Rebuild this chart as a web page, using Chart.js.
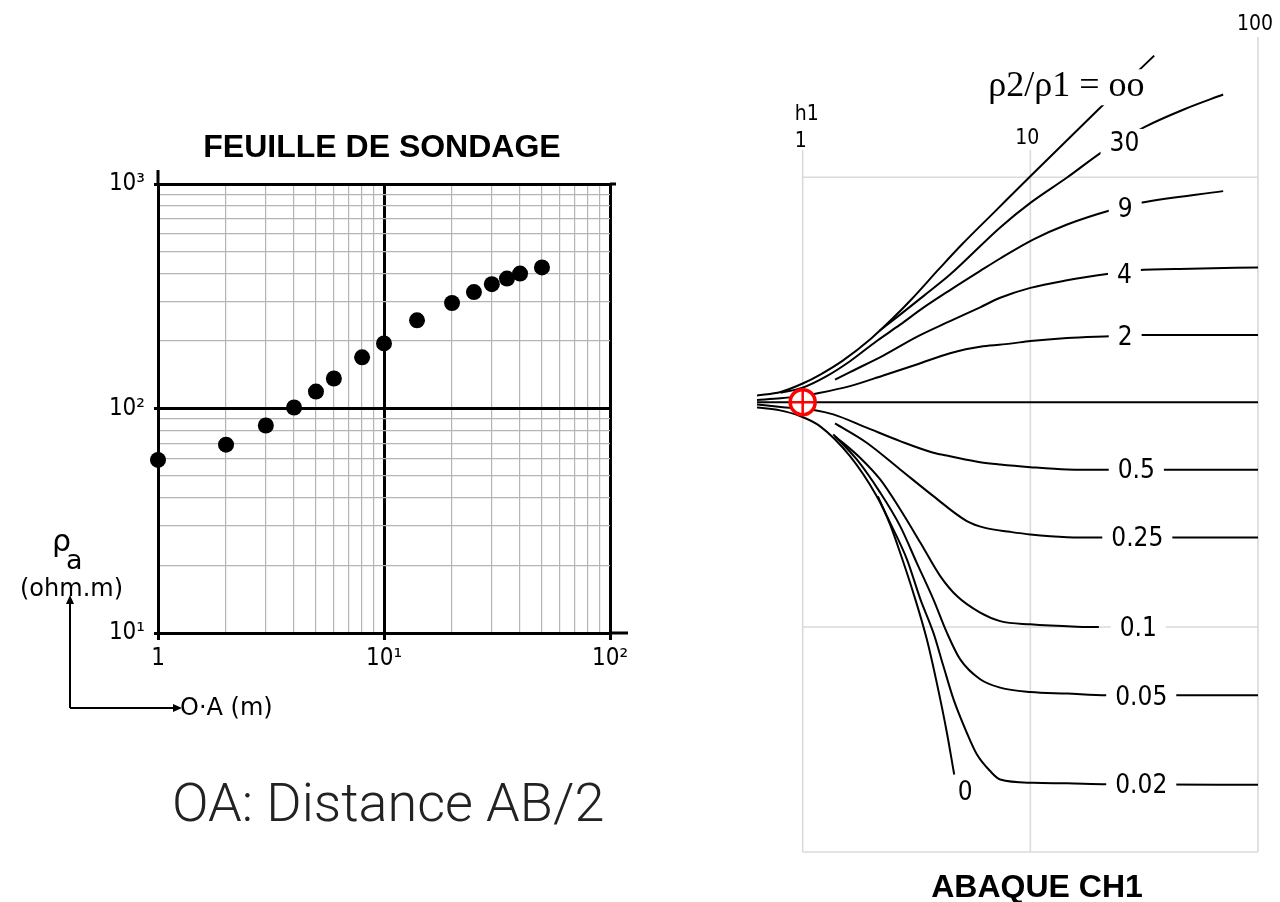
<!DOCTYPE html>
<html lang="fr">
<head>
<meta charset="UTF-8" />
<meta name="viewport" content="width=device-width, initial-scale=1.0" />
<title>Feuille de sondage - Abaque CH1</title>
<script src="https://cdn.jsdelivr.net/npm/chart.js@4.4.0/dist/chart.umd.min.js"></script>
<style>
  html, body { margin: 0; padding: 0; background: #fff; }
  #page { position: relative; width: 1280px; height: 902px; overflow: hidden; }
  .box { position: absolute; }
  #overlay { position: absolute; left: 0; top: 0; pointer-events: none; }
</style>
</head>
<body>
<div id="page">
  <div class="box" style="left:0;top:120px;width:660px;height:580px">
    <canvas id="sondage" width="660" height="580"></canvas>
  </div>
  <div class="box" style="left:740px;top:0;width:540px;height:902px">
    <canvas id="abaque" width="540" height="902"></canvas>
  </div>
  <svg id="overlay" width="1280" height="902">
    <g font-family="'Liberation Sans', Arial, sans-serif" font-weight="bold" font-size="32" text-anchor="middle">
      <text x="382" y="157">FEUILLE DE SONDAGE</text>
      <text x="1037" y="897">ABAQUE CH1</text>
    </g>
    <g font-family="'DejaVu Sans', Verdana, sans-serif">
      <text x="52" y="551" font-size="30">ρ</text>
      <text x="66" y="569" font-size="27">a</text>
      <text x="20" y="596" font-size="24">(ohm.m)</text>
      <text x="180" y="715" font-size="24">O·A (m)</text>
    </g>
    <text x="172" y="821" font-family="Roboto, 'Liberation Sans', sans-serif" font-weight="300" font-size="54" fill="#222">OA: Distance AB/2</text>
    <g stroke="#000" stroke-width="2" fill="none">
      <path d="M70 708 V602 M70 708 H176" />
    </g>
    <g fill="#000">
      <path d="M70 595 L66 604 L74 604 Z" />
      <path d="M182 708 L173 704 L173 712 Z" />
    </g>
  </svg>
</div>
<script>
  // ---- feuille de sondage : mesures (AB/2 en m, resistivite apparente en ohm.m)
  const oaValues = [1, 2, 3, 4, 5, 6, 8, 10, 14, 20, 25, 30, 35, 40, 50];
  const rhoValues = [59, 69, 84, 101, 119, 136, 169, 195, 247, 295, 330, 358, 379, 399, 425];

  const xGridValues = [1, 2, 3, 4, 5, 6, 7, 8, 9, 10, 20, 30, 40, 50, 60, 70, 80, 90, 100];
  const yGridValues = [10, 20, 30, 40, 50, 60, 70, 80, 90, 100, 200, 300, 400, 500, 600, 700, 800, 900, 1000];
  const xDecades = [1, 10, 100];
  const xTickText = ['1', '10¹', '10²'];
  const yDecades = [10, 100, 1000];
  const yTickText = ['10¹', '10²', '10³'];

  // ---- abaque CH1 : courbes rho2/rho1 (x = AB/2 / h1, y = rho_a / rho1)
  const ooX = [0.63, 0.8, 1, 1.2, 1.5, 2, 2.5, 3, 4, 5, 7, 10, 20, 35];
  const ooY = [1.07, 1.11, 1.21, 1.33, 1.53, 1.92, 2.37, 2.86, 3.94, 5.02, 7.05, 10.1, 20.1, 34.7];
  const r30X = [2.17, 2.68, 3.39, 4.44, 7.37, 10, 14.5, 21, 31.7, 47.2, 70.3];
  const r30Y = [2.07, 2.45, 2.96, 3.69, 5.98, 7.69, 9.97, 13.1, 16.7, 20.0, 23.3];
  const r9X = [0.8, 1, 1.275, 1.614, 2.115, 2.68, 3.39, 4.44, 6.02, 7.37, 10.33, 14.5, 22.5, 30.5, 70.3];
  const r9Y = [1.1, 1.16, 1.305, 1.52, 1.87, 2.21, 2.63, 3.15, 3.83, 4.35, 5.29, 6.16, 7.13, 7.69, 8.67];
  const r4X = [1.387, 1.614, 2.26, 3.17, 4.44, 6.02, 7.37, 10, 14.5, 22.1, 29.4, 50.5, 100];
  const r4Y = [1.258, 1.36, 1.61, 1.95, 2.29, 2.64, 2.91, 3.22, 3.48, 3.72, 3.86, 3.92, 3.97];
  const r2X = [0.63, 0.8, 1, 1.152, 1.614, 2.26, 3.17, 4.44, 6.2, 8.16, 10, 14.5, 22.3, 30.5, 100];
  const r2Y = [1.023, 1.04, 1.066, 1.093, 1.178, 1.314, 1.47, 1.65, 1.77, 1.82, 1.87, 1.93, 1.965, 1.99, 1.99];
  const r1X = [0.63, 100];
  const r1Y = [1, 1];
  const r05X = [0.63, 0.8, 1.133, 1.363, 1.91, 2.68, 3.75, 4.44, 6.02, 7.37, 10, 14.5, 22.1, 100];
  const r05Y = [0.977, 0.952, 0.921, 0.882, 0.77, 0.671, 0.596, 0.575, 0.541, 0.528, 0.514, 0.502, 0.5, 0.5];
  const r025X = [1.387, 1.91, 2.68, 3.75, 5.26, 6.33, 8.16, 10, 14.5, 20.6, 100];
  const r025Y = [0.804, 0.66, 0.502, 0.382, 0.296, 0.276, 0.265, 0.258, 0.251, 0.25, 0.25];
  const r01X = [1.387, 1.786, 2.19, 2.68, 3.29, 4.02, 4.76, 6.02, 7.37, 10, 16, 20];
  const r01Y = [0.706, 0.566, 0.453, 0.334, 0.237, 0.1685, 0.1373, 0.1159, 0.1063, 0.1028, 0.1004, 0.1];
  const r005X = [1.363, 1.728, 2.19, 2.68, 3.17, 3.75, 4.3, 4.92, 6.02, 7.37, 10, 14.5, 21.7, 100];
  const r005Y = [0.719, 0.556, 0.396, 0.281, 0.193, 0.1328, 0.0944, 0.0718, 0.0586, 0.0538, 0.0514, 0.0506, 0.0497, 0.0497];
  const r002X = [0.63, 0.795, 0.973, 1.19, 1.614, 2.115, 2.42, 2.87, 3.29, 3.75, 4.15, 4.6, 5.26, 5.82, 6.66, 7.37, 10.33, 14.5, 21.7, 100];
  const r002Y = [0.947, 0.919, 0.867, 0.782, 0.575, 0.382, 0.291, 0.2, 0.1328, 0.0944, 0.0671, 0.0477, 0.0339, 0.0272, 0.0229, 0.021, 0.0203, 0.0202, 0.02, 0.0199];
  const r0X = [2.14, 2.42, 2.68, 3.06, 3.51, 3.88, 4.3, 4.63];
  const r0Y = [0.381, 0.286, 0.214, 0.1422, 0.0882, 0.0566, 0.0339, 0.0221];

  const curveLabels = ['30', '9', '4', '2', '0.5', '0.25', '0.1', '0.05', '0.02', '0'];
  const curveLabelX = [25.9, 26.1, 25.9, 26.1, 29.2, 29.5, 29.8, 30.7, 30.7, 5.17];
  const curveLabelY = [14.2, 7.18, 3.66, 1.94, 0.5, 0.249, 0.0992, 0.0487, 0.0198, 0.0184];
  const ratioLabel = 'ρ2/ρ1 = oo';
  const ratioLabelX = 14.4;
  const ratioLabelY = 22.9;

  const markerX = [1];
  const markerY = [1];

  const abaqueGridX = [1, 10, 100];
  const abaqueGridY = [10, 0.1, 0.01];
  const abaqueTickText = ['1', '10', '100'];

  const condensed = "'DejaVu Sans Condensed', 'DejaVu Sans', sans-serif";

  function pairs(xs, ys) {
    return xs.map((v, i) => ({ x: v, y: ys[i] }));
  }
  function isDecade(v) {
    const l = Math.log10(v);
    return Math.abs(l - Math.round(l)) < 1e-9;
  }

  // ---------- chart 1 : feuille de sondage
  const sondageFrame = {
    id: 'sondageFrame',
    afterDraw(chart) {
      const { ctx, chartArea: a } = chart;
      ctx.save();
      ctx.strokeStyle = '#000';
      ctx.lineWidth = 3;
      ctx.beginPath();
      ctx.moveTo(a.left, a.top + 1);
      ctx.lineTo(a.left, a.top - 14);
      ctx.moveTo(a.right, a.bottom);
      ctx.lineTo(a.right + 18, a.bottom);
      ctx.moveTo(a.right, a.top);
      ctx.lineTo(a.right + 6, a.top);
      ctx.stroke();
      ctx.restore();
    }
  };

  function logAxis(gridValues, decades, texts, isX) {
    return {
      type: 'logarithmic',
      min: gridValues[0],
      max: gridValues[gridValues.length - 1],
      bounds: 'data',
      afterBuildTicks: (scale) => {
        scale.ticks = gridValues.map(v => ({ value: v }));
      },
      afterFit: (scale) => {
        if (isX) scale.height = 40; else scale.width = 158;
      },
      grid: {
        color: c => isDecade(c.tick.value) ? '#000' : '#b5b5b5',
        lineWidth: c => isDecade(c.tick.value) ? 3 : 1.2,
        tickColor: c => isDecade(c.tick.value) ? '#000' : 'rgba(0,0,0,0)',
        tickWidth: 3,
        tickLength: isX ? 7 : 4
      },
      border: { color: '#000', width: 3 },
      ticks: {
        autoSkip: false,
        maxRotation: 0,
        padding: isX ? 4 : 9,
        color: '#000',
        font: { family: condensed, size: 24 },
        callback: (v) => {
          const i = decades.indexOf(v);
          return i >= 0 ? texts[i] : '';
        }
      }
    };
  }

  new Chart(document.getElementById('sondage'), {
    type: 'scatter',
    data: {
      datasets: [{
        data: pairs(oaValues, rhoValues),
        pointRadius: 8,
        pointBackgroundColor: '#000',
        pointBorderWidth: 0,
        clip: false
      }]
    },
    options: {
      responsive: false,
      animation: false,
      events: [],
      layout: { padding: { left: 0, top: 64, right: 50, bottom: 27 } },
      plugins: { legend: { display: false }, tooltip: { enabled: false } },
      scales: {
        x: logAxis(xGridValues, xDecades, xTickText, true),
        y: logAxis(yGridValues, yDecades, yTickText, false)
      }
    },
    plugins: [sondageFrame]
  });

  // ---------- chart 2 : abaque CH1
  const abaqueDecor = {
    id: 'abaqueDecor',
    beforeDatasetsDraw(chart) {
      const { ctx, chartArea: a, scales: { x, y } } = chart;
      ctx.save();
      ctx.strokeStyle = '#dadada';
      ctx.lineWidth = 1.6;
      const bottom = y.getPixelForValue(0.01);
      abaqueGridX.forEach(v => {
        const px = x.getPixelForValue(v);
        const top = v === 100 ? a.top : a.top + 113;
        ctx.beginPath();
        ctx.moveTo(px, top);
        ctx.lineTo(px, bottom);
        ctx.stroke();
      });
      abaqueGridY.forEach(v => {
        const py = y.getPixelForValue(v);
        ctx.beginPath();
        ctx.moveTo(x.getPixelForValue(1), py);
        ctx.lineTo(x.getPixelForValue(100), py);
        ctx.stroke();
      });

      // graduations en haut
      ctx.fillStyle = '#000';
      ctx.font = '21px ' + condensed;
      ctx.textBaseline = 'middle';
      abaqueGridX.forEach((v, i) => {
        const px = x.getPixelForValue(v);
        if (v === 1) {
          ctx.textAlign = 'left';
          ctx.fillText('h1', px - 8, a.top + 78);
          ctx.fillText(abaqueTickText[i], px - 8, a.top + 105);
        } else if (v === 100) {
          ctx.textAlign = 'center';
          ctx.fillText(abaqueTickText[i], px - 3, a.top - 12);
        } else {
          ctx.textAlign = 'center';
          ctx.fillText(abaqueTickText[i], px - 3, a.top + 102);
        }
      });
      ctx.restore();
    },
    afterDatasetsDraw(chart) {
      const { ctx, scales: { x, y } } = chart;
      ctx.save();
      ctx.font = '26px ' + condensed;
      ctx.textAlign = 'center';
      ctx.textBaseline = 'middle';
      curveLabels.forEach((t, i) => {
        const px = x.getPixelForValue(curveLabelX[i]);
        const py = y.getPixelForValue(curveLabelY[i]);
        const w = ctx.measureText(t).width;
        ctx.fillStyle = '#fff';
        ctx.fillRect(px - w / 2 - 9, py - 14, w + 18, 28);
        ctx.fillStyle = '#000';
        ctx.fillText(t, px, py + 1);
      });

      ctx.font = '36px "Liberation Serif", "Times New Roman", serif';
      ctx.textBaseline = 'alphabetic';
      const rx = x.getPixelForValue(ratioLabelX);
      const ry = y.getPixelForValue(ratioLabelY);
      const rw = ctx.measureText(ratioLabel).width;
      ctx.fillStyle = '#fff';
      ctx.fillRect(rx - rw / 2 - 4, ry - 27, rw + 8, 36);
      ctx.fillStyle = '#000';
      ctx.fillText(ratioLabel, rx, ry);
      ctx.restore();
    }
  };

  const curveStyle = {
    showLine: true,
    borderColor: '#000',
    borderWidth: 2,
    pointRadius: 0,
    cubicInterpolationMode: 'monotone',
    fill: false
  };
  const curves = [
    [ooX, ooY], [r30X, r30Y], [r9X, r9Y], [r4X, r4Y], [r2X, r2Y], [r1X, r1Y],
    [r05X, r05Y], [r025X, r025Y], [r01X, r01Y], [r005X, r005Y], [r002X, r002Y], [r0X, r0Y]
  ];

  new Chart(document.getElementById('abaque'), {
    type: 'scatter',
    data: {
      datasets: [
        {
          data: pairs(markerX, markerY),
          pointStyle: 'cross',
          pointRadius: 12.5,
          pointBorderColor: '#f00',
          pointBorderWidth: 2.5
        },
        {
          data: pairs(markerX, markerY),
          pointStyle: 'circle',
          pointRadius: 12.5,
          pointBackgroundColor: '#fff',
          pointBorderColor: '#f00',
          pointBorderWidth: 3.5
        }
      ].concat(curves.map(c => Object.assign({ data: pairs(c[0], c[1]) }, curveStyle)))
    },
    options: {
      responsive: false,
      animation: false,
      events: [],
      layout: { padding: { left: 17, top: 37, right: 22, bottom: 50 } },
      plugins: { legend: { display: false }, tooltip: { enabled: false } },
      scales: {
        x: { type: 'logarithmic', min: 0.63, max: 100, bounds: 'data', display: false },
        y: { type: 'logarithmic', min: 0.01, max: 42, bounds: 'data', display: false }
      }
    },
    plugins: [abaqueDecor]
  });
</script>
</body>
</html>
